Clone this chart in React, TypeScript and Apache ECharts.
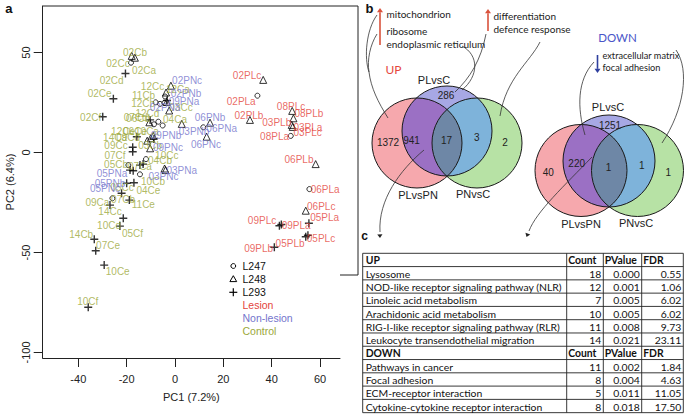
import React, { useEffect, useRef } from "react";
import * as echarts from "echarts";

// ---------- Panel a : PCA ----------
// marker positions (PC1, PC2) per individual
const l247Pc1 = [-18.2, -4.1, -8.0, -6.2, -4.4, -8.7, -6.9, -5.1, -12.0, -19.3, -14.5, -25.9, 11.7, 34.1, 47.9, 55.6];
const l247Pc2 = [44.9, 28.0, 25.1, 24.3, 24.8, 14.1, 15.4, 13.5, -3.3, -6.3, -10.9, -22.9, 12.6, 28.4, 8.3, -18.3];

const l248Pc1 = [-17.9, -16.6, -1.7, -3.7, -3.4, -2.4, -10.6, 2.8, -11.5, -10.1, -9.0, -10.3, -4.3, -3.9, 14.5, 13.1, 36.5, 31.0, 48.5, 49.0, 48.3, 48.7, 58.2, 54.1];
const l248Pc2 = [48.3, 47.4, 33.4, 30.0, 25.3, 21.0, 15.1, 14.3, 5.9, 7.1, 8.3, 2.1, -8.0, -8.8, 14.9, 7.9, 36.3, 16.3, 20.8, 17.1, 13.8, 12.8, -5.8, -29.1];

const l293Pc1 = [-20.5, -25.5, -29.9, -3.3, -10.3, -15.8, -8.7, -17.5, -17.5, -14.5, -13.2, -18.6, -17.3, -20.0, -17.0, -22.1, -26.9, -18.9, -21.4, -22.8, -33.4, -32.8, -29.3, -35.9, 55.4, 43.2, 44.0, 54.1, 55.0, 41.1];
const l293Pc2 = [39.5, 26.9, 17.9, 26.0, 16.3, 7.9, 6.8, 2.6, 0.4, -6.3, -5.8, -8.8, -9.1, -15.4, -15.1, -20.4, -26.3, -23.8, -32.9, -36.8, -43.4, -49.1, -56.3, -77.4, -35.4, -36.6, -36.0, -42.1, -41.4, -47.4];

// sample label positions (PC1, PC2)
const lesionNames = ["02PLc", "02PLa", "02PLb", "08PLc", "08PLb", "03PLb", "03PLa", "03PLc", "08PLa", "06PLb", "06PLa", "06PLc", "05PLa", "09PLc", "09PLa", "05PLc", "09PLb", "05PLb"];
const lesionPc1 = [29.8, 27.4, 30.6, 48.0, 55.4, 42.1, 55.0, 54.9, 41.2, 51.3, 62.1, 60.5, 61.9, 36.0, 50.1, 60.4, 34.6, 47.6];
const lesionPc2 = [38.75, 25.4, 18.75, 23.25, 19.6, 14.9, 12.4, 9.9, 8.25, -3.4, -18.4, -26.75, -32.4, -33.75, -36.25, -42.9, -47.9, -45.4];

const nonLesionNames = ["02PNc", "02PNb", "09PNa", "02PNa", "06PNb", "06PNa", "03PNb", "09PNb", "06PNc", "09PNc", "03PNa", "03PNc", "05PNa", "05PNb", "05PNc"];
const nonLesionPc1 = [5.0, 4.55, 3.7, -4.1, 14.5, 19.3, 7.9, -3.7, 12.8, -2.9, 2.8, -4.8, -26.1, -26.9, -29.0];
const nonLesionPc2 = [36.25, 29.6, 25.75, 22.6, 17.6, 12.1, 10.75, 8.75, 4.25, 2.75, -9.1, -11.75, -10.5, -15.25, -17.9];

const controlNames = ["02Cb", "02Cc", "02Ca", "02Cd", "02Ce", "02Cf", "12Cc", "12Ca", "11Cb", "12Cb", "03Cc", "12Cd", "07Cd", "06Cd", "04Ca", "12Ce", "06Ce", "10Ca", "14Ca", "09Cd", "09Cc", "03Cb", "07Cf", "10Cc", "04Cb", "05Cb", "07Ca", "10Cb", "04Ce", "05Cc", "07Cb", "09Ca", "11Ce", "14Cc", "10Cd", "05Cf", "14Cb", "07Ce", "10Ce", "10Cf"];
const controlPc1 = [-16.55, -23.6, -12.8, -26.2, -31.2, -34.9, -9.3, 1.2, -13.0, -13.2, 2.5, -11.4, -16.3, -15.3, 0, -21.5, -16.55, -11.6, -24.8, -19.4, -24.4, -10.3, -24.8, -3.4, -6.2, -24.4, -14.5, -9.1, -11.0, -21.9, -21.5, -32.1, -13.1, -26.9, -27.3, -17.6, -38.8, -27.7, -23.7, -36.1];
const controlPc2 = [49.9, 44.6, 41.25, 35.9, 29.6, 17.6, 33.0, 31.75, 28.5, 24.6, 22.75, 19.6, 17.6, 17.25, 16.6, 10.4, 10.75, 10.75, 7.75, 7.75, 3.75, 3.75, -1.25, -1.25, -3.75, -5.75, -7.1, -14.6, -19.1, -17.25, -23.4, -24.9, -25.75, -29.6, -36.25, -40.4, -40.75, -46.25, -59.6, -74.25];

const xTicks = [-40, -20, 0, 20, 40, 60];
const yTicks = [-100, -50, 0, 50];

// ---------- Panel b : Venn ----------
const vennSetNames = ["PLvsC", "PLvsPN", "PNvsC"];
// order: PLvsPN only, PLvsPN&PLvsC, all three, PLvsC&PNvsC, PNvsC only, PLvsC only
const upVennCounts = [1372, 941, 17, 3, 2, 286];
const downVennCounts = [40, 220, 1, 1, 1, 1251];
const upTermsA = ["mitochondrion", "ribosome", "endoplasmic reticulum"];
const upTermsB = ["differentiation", "defence response"];
const downTerms = ["extracellular matrix", "focal adhesion"];

// ---------- Panel c : table ----------
const tableHeader = ["Count", "PValue", "FDR"];
const upPathways = ["Lysosome", "NOD-like receptor signaling pathway (NLR)", "Linoleic acid metabolism", "Arachidonic acid metabolism", "RIG-I-like receptor signaling pathway (RLR)", "Leukocyte transendothelial migration"];
const upCount = [18, 12, 7, 10, 11, 14];
const upPValue = [0.0, 0.001, 0.005, 0.005, 0.008, 0.021];
const upFdr = [0.55, 1.06, 6.02, 6.02, 9.73, 23.11];
const downPathways = ["Pathways in cancer", "Focal adhesion", "ECM-receptor interaction", "Cytokine-cytokine receptor interaction"];
const downCount = [11, 8, 5, 8];
const downPValue = [0.002, 0.004, 0.011, 0.018];
const downFdr = [1.84, 4.63, 11.05, 17.5];

const SANS = "'Liberation Sans', Arial, sans-serif";
const HUM = "Lato, 'Open Sans', sans-serif";
const TBL = "Lato, 'Open Sans', sans-serif";
const COL_L = "#e4443c";
const COL_N = "#7474cc";
const COL_C = "#9ba83a";
const PLUS = "path://M6.6,0H9.4V6.6H16V9.4H9.4V16H6.6V9.4H0V6.6H6.6Z";

type Circ = { cx: number; cy: number; r: number };

function intersection(cs: Circ[]): number[][] {
  const pts: number[][] = [];
  const N = 360;
  cs.forEach((c) => {
    for (let i = 0; i < N; i++) {
      const a = (i / N) * Math.PI * 2;
      const x = c.cx + c.r * Math.cos(a);
      const y = c.cy + c.r * Math.sin(a);
      if (cs.every((o) => o === c || (x - o.cx) ** 2 + (y - o.cy) ** 2 <= o.r * o.r + 0.01)) pts.push([x, y]);
    }
  });
  const mx = pts.reduce((s, p) => s + p[0], 0) / pts.length;
  const my = pts.reduce((s, p) => s + p[1], 0) / pts.length;
  pts.sort((p, q) => Math.atan2(p[1] - my, p[0] - mx) - Math.atan2(q[1] - my, q[0] - mx));
  return pts;
}

function txt(x: number, y: number, text: string, o: any = {}) {
  return {
    type: "text",
    x,
    y,
    z: 50,
    silent: true,
    style: {
      text,
      fill: o.fill || "#222",
      fontSize: o.size || 10,
      fontFamily: o.family || SANS,
      fontWeight: o.weight || "normal",
      align: o.align || "left",
      textAlign: o.align || "left",
      verticalAlign: "middle",
      textVerticalAlign: "middle",
    },
  };
}

function venn(P: Circ, B: Circ, G: Circ, counts: number[], numPos: number[][], labelPos: number[][]) {
  const els: any[] = [];
  const fillC = (c: Circ, fill: string) => ({ type: "circle", z: 20, silent: true, shape: { cx: c.cx, cy: c.cy, r: c.r }, style: { fill, stroke: "none" } });
  els.push(fillC(P, "#f6a8ad"));
  els.push(fillC(G, "#b7e2a5"));
  els.push(fillC(B, "#a7a8e4"));
  const poly = (pts: number[][], fill: string) => ({ type: "polygon", z: 21, silent: true, shape: { points: pts }, style: { fill, stroke: "none" } });
  els.push(poly(intersection([P, B]), "#9b70c4"));
  els.push(poly(intersection([B, G]), "#7eb3da"));
  els.push(poly(intersection([P, G]), "#6e87a6"));
  [P, B, G].forEach((c) =>
    els.push({ type: "circle", z: 22, silent: true, shape: { cx: c.cx, cy: c.cy, r: c.r }, style: { fill: "none", stroke: "#1a1a1a", lineWidth: 1 } })
  );
  counts.forEach((n, i) => els.push(txt(numPos[i][0], numPos[i][1], String(n), { align: "center", size: 10 })));
  vennSetNames.forEach((s, i) => els.push(txt(labelPos[i][0], labelPos[i][1], s, { align: "center", size: 11 })));
  return els;
}

function curve(x1: number, y1: number, c1x: number, c1y: number, c2x: number, c2y: number, x2: number, y2: number) {
  return {
    type: "bezierCurve",
    z: 30,
    silent: true,
    shape: { x1, y1, cpx1: c1x, cpy1: c1y, cpx2: c2x, cpy2: c2y, x2, y2 },
    style: { stroke: "#333", lineWidth: 0.8, fill: "none" },
  };
}

function arrow(x1: number, y1: number, x2: number, y2: number, color: string, w: number, head: number) {
  const dx = x2 - x1, dy = y2 - y1;
  const L = Math.hypot(dx, dy);
  const ux = dx / L, uy = dy / L;
  const bx = x2 - ux * head * 1.4, by = y2 - uy * head * 1.4;
  return [
    { type: "line", z: 30, silent: true, shape: { x1, y1, x2: bx, y2: by }, style: { stroke: color, lineWidth: w } },
    {
      type: "polygon",
      z: 30,
      silent: true,
      shape: { points: [[x2, y2], [bx - uy * head, by + ux * head], [bx + uy * head, by - ux * head]] },
      style: { fill: color, stroke: "none" },
    },
  ];
}

function buildTable() {
  const els: any[] = [];
  const top = 253.3, rowH = 13.28;
  const colX = [362.7, 566.7, 603.3, 641.7, 683.3];
  type Row = { cells: string[]; bold: boolean };
  const rows: Row[] = [];
  rows.push({ cells: ["UP", ...tableHeader], bold: true });
  upPathways.forEach((t, i) => rows.push({ cells: [t, String(upCount[i]), upPValue[i].toFixed(3), upFdr[i].toFixed(2)], bold: false }));
  rows.push({ cells: ["DOWN", ...tableHeader], bold: true });
  downPathways.forEach((t, i) => rows.push({ cells: [t, String(downCount[i]), downPValue[i].toFixed(3), downFdr[i].toFixed(2)], bold: false }));
  const bottom = top + rows.length * rowH;
  els.push({ type: "rect", z: 40, silent: true, shape: { x: colX[0], y: top, width: colX[4] - colX[0], height: bottom - top }, style: { fill: "#fff", stroke: "none" } });
  for (let i = 0; i <= rows.length; i++) {
    const y = top + i * rowH;
    els.push({ type: "line", z: 41, silent: true, shape: { x1: colX[0], y1: y, x2: colX[4], y2: y }, style: { stroke: "#222", lineWidth: 0.9 } });
  }
  colX.forEach((x) => els.push({ type: "line", z: 41, silent: true, shape: { x1: x, y1: top, x2: x, y2: bottom }, style: { stroke: "#222", lineWidth: 0.9 } }));
  rows.forEach((r, i) => {
    const y = top + (i + 0.5) * rowH + 0.5;
    const o = { family: TBL, size: 10.4, weight: r.bold ? "bold" : "normal", fill: "#111" };
    els.push(txt(colX[0] + 3, y, r.cells[0], o));
    for (let c = 1; c < 4; c++) {
      if (r.bold) els.push(txt(colX[c] + 1.5, y, r.cells[c], o));
      else els.push(txt(colX[c + 1] - 2, y, r.cells[c], { ...o, align: "right" }));
    }
  });
  return els;
}

function buildGraphic() {
  const els: any[] = [];
  // panel a frame (top/right part)
  els.push({ type: "polyline", z: 10, silent: true, shape: { points: [[42.7, 6], [358, 6], [358, 275], [340, 275]] }, style: { stroke: "#222", lineWidth: 1, fill: "none" } });
  els.push(txt(8.8, 8, "a", { size: 13, weight: "bold", align: "center", fill: "#111" }));
  els.push(txt(369.5, 8, "b", { size: 13, weight: "bold", align: "center", fill: "#111" }));
  els.push(txt(364.5, 235.5, "c", { size: 12, weight: "bold", align: "center", fill: "#111" }));

  // legend
  const lx = 233.3;
  els.push({ type: "circle", z: 50, silent: true, shape: { cx: lx, cy: 266, r: 2.4 }, style: { fill: "none", stroke: "#000", lineWidth: 1 } });
  els.push({ type: "polygon", z: 50, silent: true, shape: { points: [[lx, 275.7], [lx - 3.4, 281.6], [lx + 3.4, 281.6]] }, style: { fill: "none", stroke: "#000", lineWidth: 1 } });
  els.push({ type: "line", z: 50, silent: true, shape: { x1: lx - 4, y1: 292.3, x2: lx + 4, y2: 292.3 }, style: { stroke: "#000", lineWidth: 1.2 } });
  els.push({ type: "line", z: 50, silent: true, shape: { x1: lx, y1: 288.3, x2: lx, y2: 296.3 }, style: { stroke: "#000", lineWidth: 1.2 } });
  const legendItems: [string, string, number][] = [
    ["L247", "#111", 266],
    ["L248", "#111", 279],
    ["L293", "#111", 292.3],
    ["Lesion", COL_L, 305],
    ["Non-lesion", COL_N, 318.2],
    ["Control", COL_C, 331],
  ];
  legendItems.forEach(([t, c, y]) => els.push(txt(242.5, y, t, { fill: c, size: 10.5 })));

  // annotation texts
  upTermsA.forEach((t, i) => els.push(txt(386.5, [14, 31, 43.5][i], t, { family: HUM, size: 10 })));
  upTermsB.forEach((t, i) => els.push(txt(493.5, [16, 28.5][i], t, { family: HUM, size: 10 })));
  downTerms.forEach((t, i) => els.push(txt(602.5, [55.5, 67][i], t, { family: HUM, size: 9.2 })));
  els.push(txt(393.5, 69.5, "UP", { family: HUM, size: 12, fill: "#e5473d", align: "center" }));
  els.push(txt(617.5, 37, "DOWN", { family: HUM, size: 11.5, fill: "#4a55c8", align: "center" }));
  els.push(...arrow(380, 45, 380, 8, "#d9523c", 1.6, 3));
  els.push(...arrow(488, 31, 488, 9, "#d9523c", 1.6, 3));
  els.push(...arrow(597.5, 55, 597.5, 73, "#2e3f9e", 1.6, 3));

  // Venn diagrams
  els.push(
    ...venn(
      { cx: 417, cy: 143, r: 45 },
      { cx: 447, cy: 131, r: 45 },
      { cx: 477, cy: 143, r: 45 },
      upVennCounts,
      [[388, 142], [411.5, 140.5], [446.5, 140.5], [476.7, 137], [505, 142], [446, 95]],
      [[434, 80], [418, 195], [473, 194]]
    )
  );
  els.push(
    ...venn(
      { cx: 581, cy: 170.5, r: 46 },
      { cx: 609, cy: 161, r: 46 },
      { cx: 637.5, cy: 170.5, r: 46 },
      downVennCounts,
      [[548.3, 172], [576.7, 163.5], [608.5, 167], [641.7, 165.5], [668.3, 172], [610, 125]],
      [[608, 107], [581, 224], [636, 223]]
    )
  );

  // leader curves
  els.push(curve(377, 15, 366, 30, 364, 58, 369, 72));
  els.push(curve(377, 34, 370, 45, 367, 60, 369, 72));
  els.push(curve(369, 72, 371, 88, 378, 102, 388, 118));
  els.push(curve(462, 46, 479, 55, 479, 76, 462, 90));
  els.push(curve(486, 34, 481, 60, 470, 78, 455, 92));
  els.push(curve(540, 42, 530, 62, 506, 78, 500, 116));
  els.push(curve(594, 62, 577, 80, 577, 108, 585, 135));
  els.push(curve(676, 50, 690, 70, 684, 110, 662, 143));
  // arrows to table
  els.push(curve(424, 150, 400, 170, 378, 200, 380, 232));
  els.push(...arrow(379.5, 226, 380, 238, "#222", 0.01, 2.6));
  els.push(curve(592, 157, 565, 185, 536, 212, 529, 231));
  els.push(...arrow(531, 226, 526.5, 237, "#222", 0.01, 2.6));

  els.push(...buildTable());
  return els;
}

function labelSeries(name: string, names: string[], xs: number[], ys: number[], color: string) {
  return {
    type: "scatter",
    name,
    silent: true,
    z: 4,
    symbol: "circle",
    symbolSize: 1,
    itemStyle: { color: "rgba(0,0,0,0)" },
    label: { show: true, position: "inside", formatter: "{b}", color, fontSize: 10, fontFamily: SANS },
    data: names.map((n, i) => ({ name: n, value: [xs[i], ys[i]] })),
  };
}

export default function App() {
  const ref = useRef<HTMLDivElement>(null);
  useEffect(() => {
    const chart = echarts.init(ref.current!, null, { renderer: "svg" });
    const option: any = {
      animation: false,
      backgroundColor: "#fff",
      grid: { left: 42.7, right: 345, top: 6, bottom: 58, containLabel: false },
      xAxis: {
        type: "value",
        min: -54.74,
        max: 68.27,
        name: "PC1 (7.2%)",
        nameLocation: "middle",
        nameGap: 33,
        nameTextStyle: { fontSize: 11, fontFamily: SANS, color: "#222" },
        axisLine: { show: true, onZero: false, lineStyle: { color: "#222", width: 1 } },
        axisTick: { show: true, length: 9, customValues: xTicks, lineStyle: { color: "#222" } },
        axisLabel: { customValues: xTicks, margin: 15, fontSize: 11, fontFamily: SANS, color: "#222" },
        splitLine: { show: false },
      },
      yAxis: {
        type: "value",
        min: -102.75,
        max: 73.25,
        name: "PC2 (6.4%)",
        nameLocation: "middle",
        nameGap: 27,
        nameTextStyle: { fontSize: 11, fontFamily: SANS, color: "#222" },
        axisLine: { show: true, onZero: false, lineStyle: { color: "#222", width: 1 } },
        axisTick: { show: true, length: 9, customValues: yTicks, lineStyle: { color: "#222" } },
        axisLabel: { customValues: yTicks, rotate: 90, margin: 11, fontSize: 11, fontFamily: SANS, color: "#222" },
        splitLine: { show: false },
      },
      series: [
        {
          type: "scatter",
          name: "L247",
          silent: true,
          z: 3,
          symbol: "circle",
          symbolSize: 5,
          itemStyle: { color: "rgba(0,0,0,0)", borderColor: "#000", borderWidth: 1 },
          data: l247Pc1.map((x, i) => [x, l247Pc2[i]]),
        },
        {
          type: "scatter",
          name: "L248",
          silent: true,
          z: 3,
          symbol: "triangle",
          symbolSize: 7,
          itemStyle: { color: "rgba(0,0,0,0)", borderColor: "#000", borderWidth: 1 },
          data: l248Pc1.map((x, i) => [x, l248Pc2[i]]),
        },
        {
          type: "scatter",
          name: "L293",
          silent: true,
          z: 3,
          symbol: PLUS,
          symbolSize: 8,
          itemStyle: { color: "#000" },
          data: l293Pc1.map((x, i) => [x, l293Pc2[i]]),
        },
        labelSeries("Control", controlNames, controlPc1, controlPc2, COL_C),
        labelSeries("Non-lesion", nonLesionNames, nonLesionPc1, nonLesionPc2, COL_N),
        labelSeries("Lesion", lesionNames, lesionPc1, lesionPc2, COL_L),
      ],
      graphic: { elements: buildGraphic() },
    };
    chart.setOption(option);
    return () => chart.dispose();
  }, []);
  return <div ref={ref} style={{ position: "fixed", left: 0, top: 0, width: 685, height: 416, background: "#fff" }} />;
}
